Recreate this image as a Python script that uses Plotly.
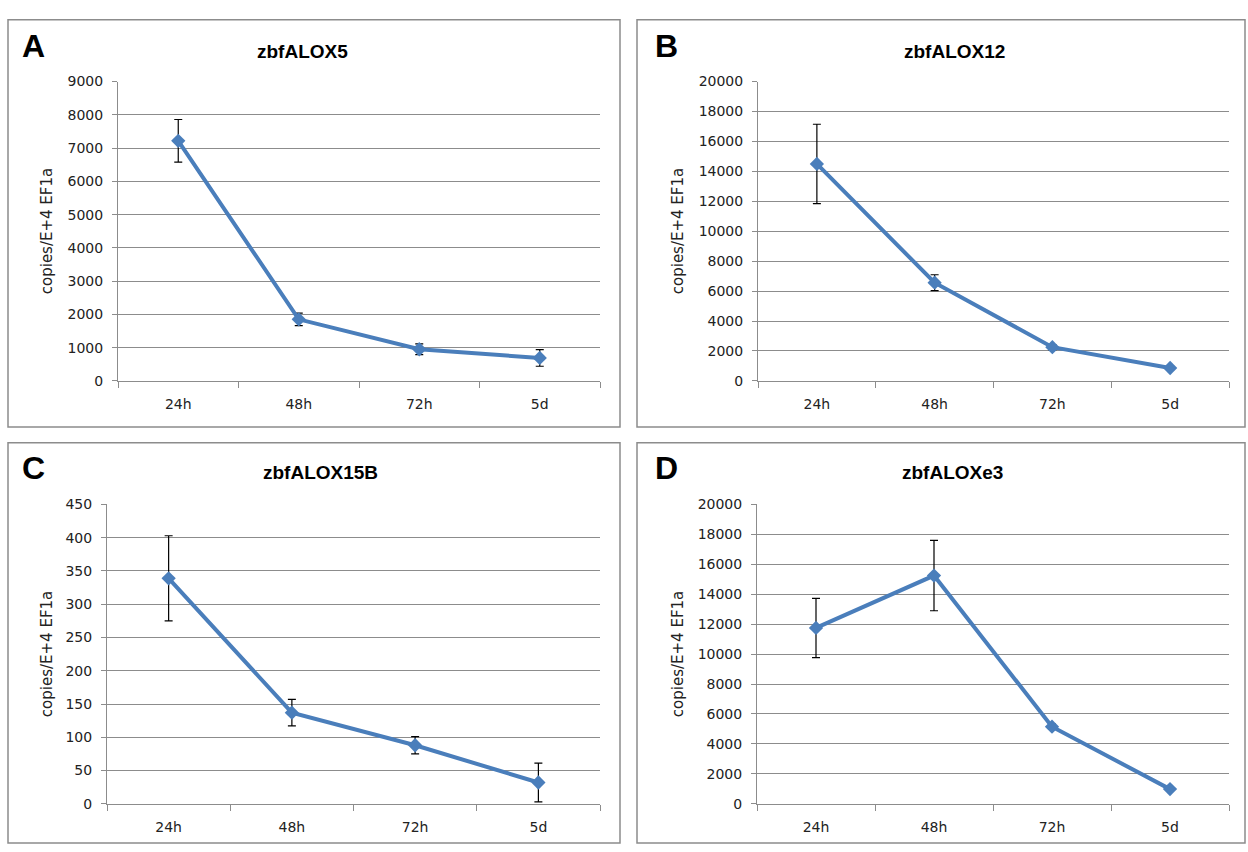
import plotly.graph_objects as go

# ---------------- data ----------------
categories = ["24h", "48h", "72h", "5d"]

alox5 = [7220, 1850, 950, 690]
alox5_err = [640, 190, 160, 250]

alox12 = [14500, 6560, 2250, 860]
alox12_err = [2650, 530, 180, 120]

alox15b = [339, 137, 88, 32]
alox15b_err = [64, 20, 13, 29]

aloxe3 = [11750, 15250, 5150, 980]
aloxe3_err = [1980, 2350, 180, 150]

titles = ["zbfALOX5", "zbfALOX12", "zbfALOX15B", "zbfALOXe3"]
letters = ["A", "B", "C", "D"]
y_max = [9000, 20000, 450, 20000]
y_step = [1000, 2000, 50, 2000]
y_title = "copies/E+4 EF1a"

# ---------------- layout helpers ----------------
W, H = 1248, 852


def px_x(x):
    return x / W


def px_y(y):
    return 1 - y / H


# plot areas in pixels: (left, right, top, bottom)
areas = [(118, 600, 75, 380), (758, 1229, 75, 380),
         (107, 600, 506, 811), (757, 1229, 506, 811)]
# panel frames in pixels
frames = [(8, 620, 12, 427), (637, 1245, 12, 427),
          (8, 620, 443, 851), (637, 1245, 443, 851)]
title_pos = [(302, 44), (955, 44), (320, 473), (953, 473)]
letter_pos = [(33, 39), (666, 39), (33, 469), (666, 469)]
ytitle_x = [47, 678, 47, 678]

series = [(alox5, alox5_err), (alox12, alox12_err),
          (alox15b, alox15b_err), (aloxe3, aloxe3_err)]

LINE_COLOR = "#4A7EBB"
GRID = "#8c8c8c"
TICK_FONT = dict(family="DejaVu Sans", size=14, color="#222222")

fig = go.Figure()
shapes = []
annotations = []

for i in range(4):
    xa = "x" if i == 0 else f"x{i+1}"
    ya = "y" if i == 0 else f"y{i+1}"
    vals, errs = series[i]
    fig.add_trace(go.Scatter(
        x=categories, y=vals, xaxis=xa, yaxis=ya,
        mode="lines+markers",
        line=dict(color=LINE_COLOR, width=4),
        marker=dict(symbol="diamond", size=11, color=LINE_COLOR),
        error_y=dict(type="data", array=errs, visible=True,
                     color="black", thickness=1.2, width=4),
        showlegend=False, hoverinfo="skip",
    ))
    l, r, t, b = areas[i]
    xkey = "xaxis" if i == 0 else f"xaxis{i+1}"
    ykey = "yaxis" if i == 0 else f"yaxis{i+1}"
    fig.layout[xkey] = dict(
        domain=[px_x(l), px_x(r)], anchor=ya,
        type="category", range=[-0.5, 3.5],
        tickson="boundaries", ticks="outside", ticklen=6,
        tickcolor=GRID, tickwidth=1,
        showline=True, linecolor=GRID, linewidth=1,
        showgrid=False, zeroline=False,
        tickfont=TICK_FONT, ticklabelstandoff=10,
        fixedrange=True,
    )
    fig.layout[ykey] = dict(
        domain=[px_y(b), px_y(t)], anchor=xa,
        range=[0, y_max[i]], dtick=y_step[i], tick0=0, tickformat="d",
        ticks="outside", ticklen=5, tickcolor=GRID, tickwidth=1,
        showline=True, linecolor=GRID, linewidth=1,
        showgrid=True, gridcolor=GRID, gridwidth=1,
        zeroline=False, tickfont=TICK_FONT, ticklabelstandoff=6,
        fixedrange=True,
    )
    fl, fr, ft, fb = frames[i]
    shapes.append(dict(type="rect", xref="paper", yref="paper",
                       x0=px_x(fl), x1=px_x(fr), y0=px_y(fb), y1=px_y(ft),
                       line=dict(color="#8c8c8c", width=1.5),
                       fillcolor="rgba(0,0,0,0)", layer="below"))
    tx, ty = title_pos[i]
    annotations.append(dict(text=f"<b>{titles[i]}</b>", xref="paper", yref="paper",
                            x=px_x(tx), y=px_y(ty), showarrow=False,
                            xanchor="center", yanchor="middle",
                            font=dict(family="Liberation Sans", size=19, color="black")))
    lx, ly = letter_pos[i]
    annotations.append(dict(text=f"<b>{letters[i]}</b>", xref="paper", yref="paper",
                            x=px_x(lx), y=px_y(ly), showarrow=False,
                            xanchor="center", yanchor="middle",
                            font=dict(family="Liberation Sans", size=32, color="black")))
    annotations.append(dict(text=y_title, xref="paper", yref="paper",
                            x=px_x(ytitle_x[i]), y=px_y((t + b) / 2),
                            showarrow=False, textangle=-90,
                            xanchor="center", yanchor="middle",
                            font=dict(family="DejaVu Sans", size=15, color="#222222")))

fig.update_layout(
    width=W, height=H,
    margin=dict(l=0, r=0, t=0, b=0),
    paper_bgcolor="white", plot_bgcolor="white",
    shapes=shapes, annotations=annotations,
    showlegend=False,
)

fig.write_html(
    "out.html",
    config={"displayModeBar": False},
    post_script="document.body.style.margin='0';document.body.style.overflow='hidden';",
)
